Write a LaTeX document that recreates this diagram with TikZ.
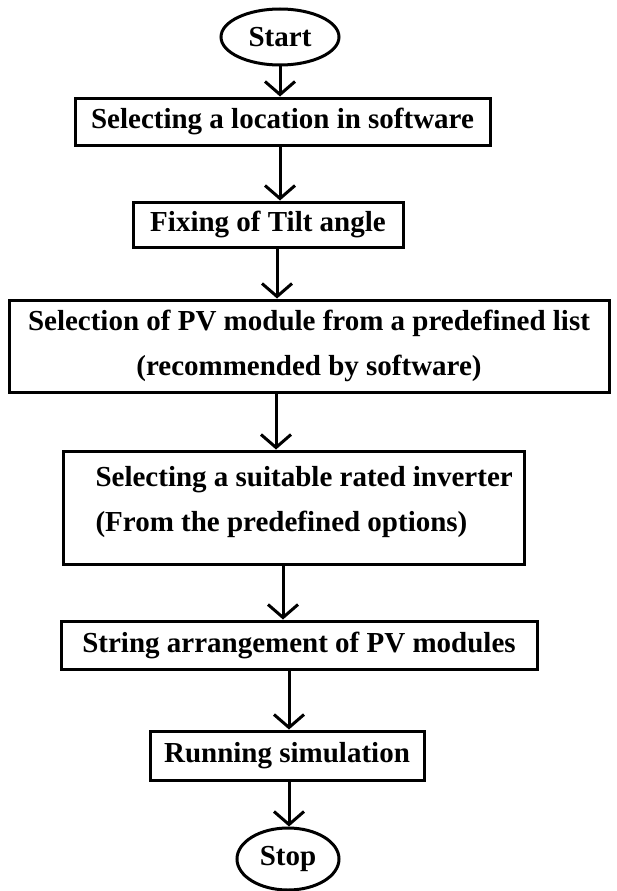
\documentclass[tikz,border=0pt]{standalone}
\usepackage{fontspec}
\setmainfont{Liberation Serif}
\usetikzlibrary{shapes.geometric,arrows.meta}
\tikzset{
  stepbox/.style={draw, line width=3pt, rectangle, align=center, inner sep=0pt},
  terminal/.style={draw, ellipse, line width=3pt, inner sep=0pt},
  flow/.style={-{Straight Barb[length=13pt,width=30pt]}, line width=3pt},
  every node/.style={font=\fontsize{29}{45}\selectfont\bfseries}
}
\begin{document}
\begin{tikzpicture}[x=1pt,y=-1pt]
  \useasboundingbox (0,0) rectangle (616,891);
  \node(start) at (280,37) [terminal, minimum width=118pt, minimum height=56pt] {Start};
  \node(loc) at (282.5,121.5) [stepbox, minimum width=415pt, minimum height=47pt] {Selecting a location in software};
  \node(tilt) at (268,224.5) [stepbox, minimum width=270pt, minimum height=45pt] {Fixing of Tilt angle};
  \node(pv) at (309,346) [stepbox, minimum width=600pt, minimum height=92pt] {Selection of PV module from a predefined list\\(recommended by software)};
  \node(inv) at (294,507.5) [stepbox, minimum width=461pt, minimum height=113pt] {};
  \node(invtext) at (92,502) [anchor=west, align=left] {Selecting a suitable rated inverter\\(From the predefined options)};
  \node(str) at (299,645) [stepbox, minimum width=476pt, minimum height=48pt] {String arrangement of PV modules};
  \node(sim) at (287,755.5) [stepbox, minimum width=274pt, minimum height=49pt] {Running simulation};
  \node(stop) at (288,859) [terminal, minimum width=102pt, minimum height=62pt] {Stop};

  \draw[flow] (start.south) -- (start.south |- loc.north);
  \draw[flow] ([xshift=-2.5pt]loc.south) -- ([xshift=-2.5pt]loc.south |- tilt.north);
  \draw[flow] ([xshift=9pt]tilt.south) -- ([xshift=9pt]tilt.south |- pv.north);
  \draw[flow] ([xshift=-33pt]pv.south) -- ([xshift=-33pt]pv.south |- inv.north);
  \draw[flow] ([xshift=-11pt]inv.south) -- ([xshift=-11pt]inv.south |- str.north);
  \draw[flow] ([xshift=2pt]sim.north |- str.south) -- ([xshift=2pt]sim.north);
  \draw[flow] ([xshift=1pt]stop.north |- sim.south) -- ([xshift=1pt]stop.north);
\end{tikzpicture}
\end{document}
